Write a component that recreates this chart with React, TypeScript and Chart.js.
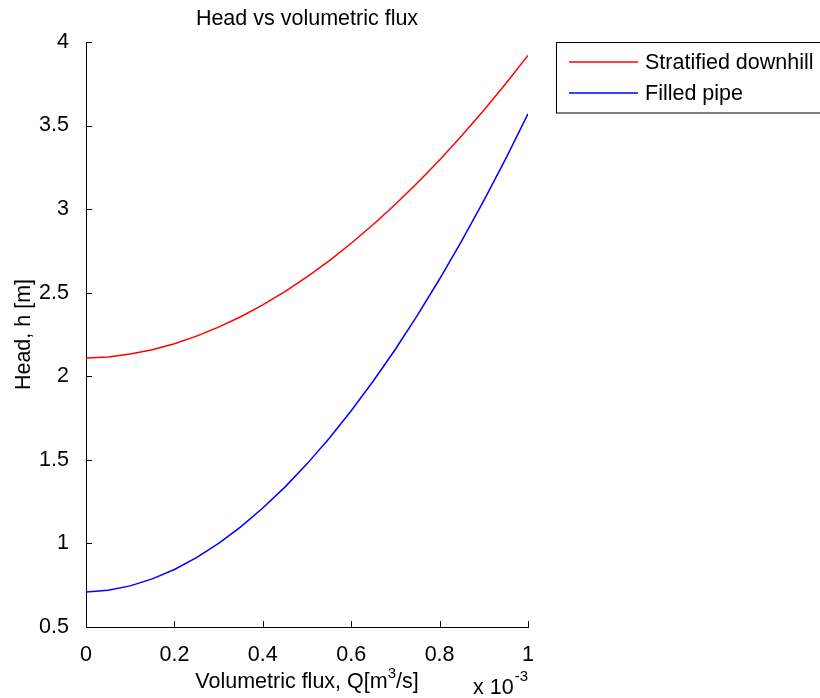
import React, { useEffect, useRef } from "react";
import { Chart, registerables } from "chart.js";

Chart.register(...registerables);

// Volumetric flux Q, in units of 1e-3 m^3/s
const qValues = [0, 0.05, 0.1, 0.15, 0.2, 0.25, 0.3, 0.35, 0.4, 0.45, 0.5, 0.55, 0.6, 0.65, 0.7, 0.75, 0.8, 0.85, 0.9, 0.95, 1.0];
// Head h [m]
const stratifiedValues = [2.110, 2.116, 2.133, 2.159, 2.195, 2.240, 2.294, 2.356, 2.427, 2.507, 2.595, 2.691, 2.796, 2.908, 3.029, 3.158, 3.294, 3.439, 3.592, 3.752, 3.920];
const filledValues = [0.710, 0.720, 0.746, 0.788, 0.844, 0.915, 1.000, 1.099, 1.212, 1.337, 1.476, 1.628, 1.794, 1.972, 2.162, 2.366, 2.582, 2.810, 3.051, 3.304, 3.570];

const seriesLabels = ["Stratified downhill", "Filled pipe"];
const seriesColors = ["#ff0000", "#0000ff"];

const xTicks = [0, 0.2, 0.4, 0.6, 0.8, 1];
const yTicks = [0.5, 1, 1.5, 2, 2.5, 3, 3.5, 4];

const titleText = "Head vs volumetric flux";
const yTitle = "Head, h [m]";

const FONT_FAMILY = "'Liberation Sans', Arial, Helvetica, sans-serif";
const FS = 21.5;

const decorPlugin = {
  id: "decor",
  afterDraw(chart: any) {
    const ctx = chart.ctx;
    const { left, top, bottom } = chart.chartArea;
    const xs = chart.scales.x;
    const ys = chart.scales.y;
    ctx.save();
    // inward tick marks
    ctx.strokeStyle = "#000";
    ctx.lineWidth = 1;
    ctx.beginPath();
    xTicks.forEach((v) => {
      const px = Math.round(xs.getPixelForValue(v)) + 0.5;
      ctx.moveTo(px, bottom);
      ctx.lineTo(px, bottom - 6);
    });
    yTicks.forEach((v) => {
      const py = Math.round(ys.getPixelForValue(v)) + 0.5;
      ctx.moveTo(left, py);
      ctx.lineTo(left + 6, py);
    });
    ctx.stroke();

    ctx.fillStyle = "#000";
    // title
    ctx.font = `${FS}px ${FONT_FAMILY}`;
    ctx.textAlign = "center";
    ctx.textBaseline = "alphabetic";
    const cx = (xs.left + xs.right) / 2;
    ctx.fillText(titleText, cx, 25);

    // x axis title with superscript
    const part1 = "Volumetric flux, Q[m";
    const sup = "3";
    const part2 = "/s]";
    const supFont = `${FS * 0.7}px ${FONT_FAMILY}`;
    const mainFont = `${FS}px ${FONT_FAMILY}`;
    ctx.font = mainFont;
    const w1 = ctx.measureText(part1).width;
    const w3 = ctx.measureText(part2).width;
    ctx.font = supFont;
    const w2 = ctx.measureText(sup).width;
    const total = w1 + w2 + w3;
    let sx = cx - total / 2;
    ctx.textAlign = "left";
    ctx.font = mainFont;
    ctx.fillText(part1, sx, 688);
    sx += w1;
    ctx.font = supFont;
    ctx.fillText(sup, sx, 678);
    sx += w2;
    ctx.font = mainFont;
    ctx.fillText(part2, sx, 688);

    // exponent label
    ctx.font = mainFont;
    ctx.fillText("x 10", 473, 694);
    const wx = ctx.measureText("x 10").width;
    ctx.font = supFont;
    ctx.fillText("-3", 473 + wx + 1, 681);

    // y axis title
    ctx.font = mainFont;
    ctx.translate(30, (top + bottom) / 2);
    ctx.rotate(-Math.PI / 2);
    ctx.textAlign = "center";
    ctx.textBaseline = "alphabetic";
    ctx.fillText(yTitle, 0, 0);
    ctx.restore();

    // legend
    ctx.save();
    ctx.strokeStyle = "#000";
    ctx.lineWidth = 1;
    ctx.strokeRect(556.5, 42.5, 300, 70.5);
    const rows = [62, 93];
    chart.data.datasets.forEach((ds: any, i: number) => {
      ctx.strokeStyle = ds.borderColor;
      ctx.lineWidth = 1.5;
      ctx.beginPath();
      ctx.moveTo(569, rows[i]);
      ctx.lineTo(638, rows[i]);
      ctx.stroke();
      ctx.fillStyle = "#000";
      ctx.font = mainFont;
      ctx.textAlign = "left";
      ctx.textBaseline = "middle";
      ctx.fillText(ds.label, 645, rows[i] + 1);
    });
    ctx.restore();
  },
};

export default function App() {
  const canvasRef = useRef<HTMLCanvasElement | null>(null);

  useEffect(() => {
    if (!canvasRef.current) return;
    const mk = (vals: number[]) => qValues.map((q, i) => ({ x: q, y: vals[i] }));
    const tickFont = { family: FONT_FAMILY, size: FS };
    const chart = new Chart(canvasRef.current, {
      type: "line",
      data: {
        datasets: [
          {
            label: seriesLabels[0],
            data: mk(stratifiedValues),
            borderColor: seriesColors[0],
            borderWidth: 1.5,
            pointRadius: 0,
            tension: 0,
            fill: false,
          },
          {
            label: seriesLabels[1],
            data: mk(filledValues),
            borderColor: seriesColors[1],
            borderWidth: 1.5,
            pointRadius: 0,
            tension: 0,
            fill: false,
          },
        ],
      },
      options: {
        animation: false,
        responsive: false,
        maintainAspectRatio: false,
        layout: { padding: { top: 42, right: 292, left: 0, bottom: 0 } },
        plugins: {
          legend: { display: false },
          title: { display: false },
          tooltip: { enabled: false },
        },
        scales: {
          x: {
            type: "linear",
            min: 0,
            max: 1,
            grid: { display: false },
            border: { display: true, color: "#000", width: 1 },
            ticks: {
              color: "#000",
              font: tickFont,
              padding: 7,
              maxRotation: 0,
              autoSkip: false,
              callback: (v: any) => String(v),
            },
            afterBuildTicks: (s: any) => {
              s.ticks = xTicks.map((v) => ({ value: v }));
            },
            afterFit: (s: any) => {
              s.height = 71;
            },
          },
          y: {
            type: "linear",
            min: 0.5,
            max: 4,
            grid: { display: false },
            border: { display: true, color: "#000", width: 1 },
            ticks: {
              color: "#000",
              font: tickFont,
              padding: 9,
              autoSkip: false,
              callback: (v: any) => String(v),
            },
            afterBuildTicks: (s: any) => {
              s.ticks = yTicks.map((v) => ({ value: v }));
            },
            afterFit: (s: any) => {
              s.width = 86;
            },
          },
        },
      },
      plugins: [decorPlugin],
    });
    return () => chart.destroy();
  }, []);

  return (
    <div style={{ position: "absolute", left: 0, top: 0, width: 820, height: 698, background: "#fff" }}>
      <canvas ref={canvasRef} width={820} height={698} style={{ display: "block" }} />
    </div>
  );
}
